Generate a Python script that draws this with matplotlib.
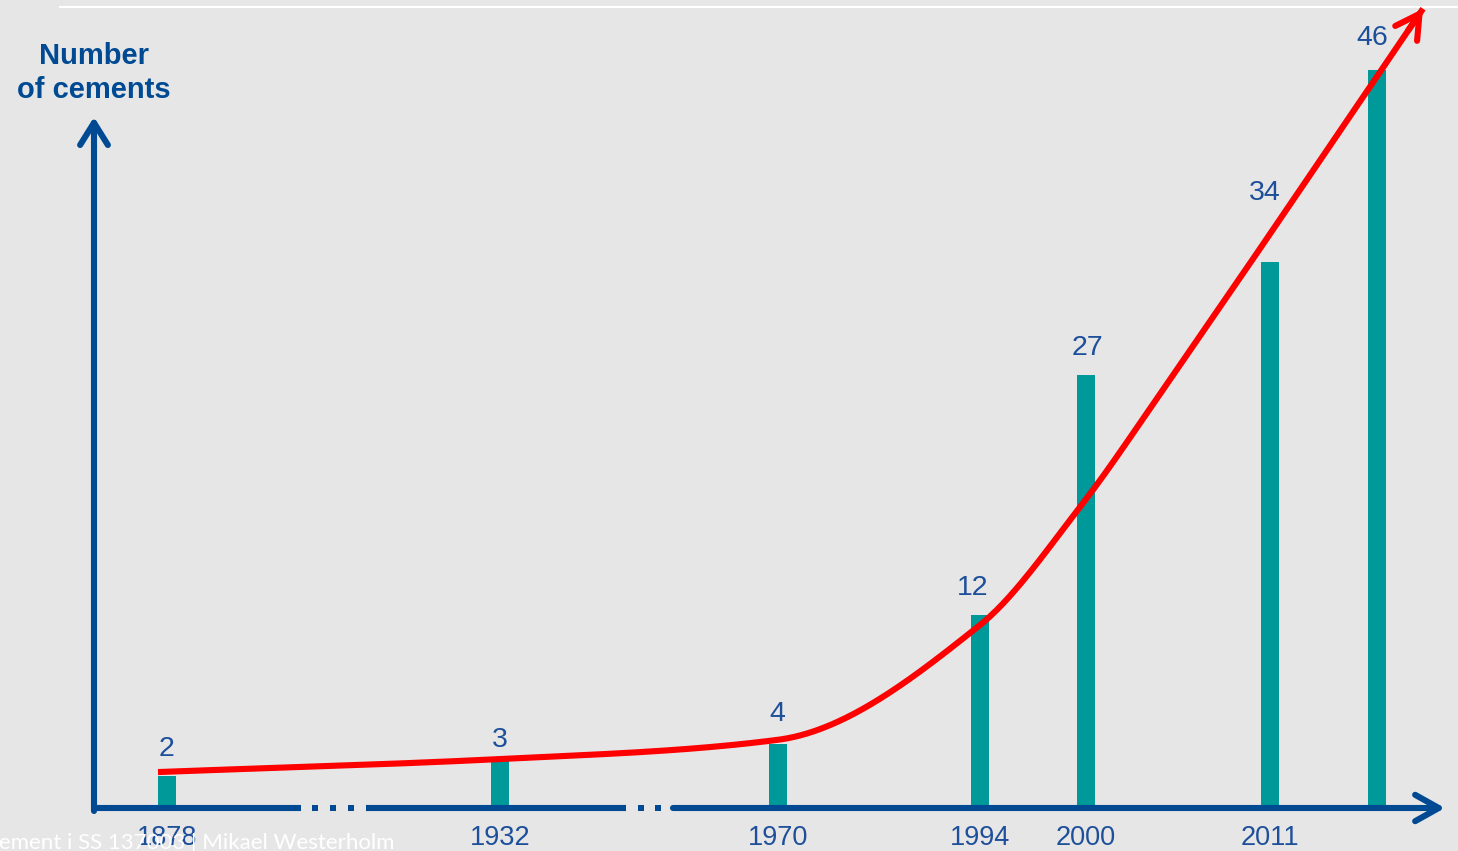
import numpy as np
import matplotlib
matplotlib.use("Agg")
import matplotlib.pyplot as plt
from matplotlib.patches import FancyArrowPatch

# number of cements per standard edition
years = ["1878", "1932", "1970", "1994", "2000", "2011", ""]
counts = [2, 3, 4, 12, 27, 34, 46]

# growth trend drawn over the bars (number of cements)
trend_y = [2.24, 3.05, 4.25, 11.4, 18.75, 26.7, 49.8]

# horizontal layout (pixel units along the broken time axis)
bar_x = [167, 500, 778, 980, 1086, 1270, 1377]
trend_x = [158, 500, 778, 980, 1080, 1170, 1423]
label_dx = [0, 0, -1, -7, 1, -5, -5]
label_dy = [27, 20, 30, 27, 27, 69, 32]

W, H = 1458, 851
BASE = 808          # pixel row of the x axis
PX = 16.05          # pixels per cement

BG = "#e6e6e6"
TEAL = "#009999"
AXIS = "#004a93"
TXT = "#1d4f9a"
RED = "#ff0000"


def py(p):
    # pixel row -> value units
    return (BASE - p) / PX


def pchip(x, y, xs):
    x = np.asarray(x, float)
    y = np.asarray(y, float)
    h = np.diff(x)
    d = np.diff(y) / h
    m = np.zeros_like(y)
    for k in range(1, len(x) - 1):
        if d[k - 1] * d[k] > 0:
            w1 = 2 * h[k] + h[k - 1]
            w2 = h[k] + 2 * h[k - 1]
            m[k] = (w1 + w2) / (w1 / d[k - 1] + w2 / d[k])
    m[0] = d[0]
    m[-1] = d[-1]
    i = np.clip(np.searchsorted(x, xs) - 1, 0, len(h) - 1)
    t = (xs - x[i]) / h[i]
    h00 = 2 * t**3 - 3 * t**2 + 1
    h10 = t**3 - 2 * t**2 + t
    h01 = -2 * t**3 + 3 * t**2
    h11 = t**3 - t**2
    return h00 * y[i] + h10 * h[i] * m[i] + h01 * y[i + 1] + h11 * h[i] * m[i + 1]


plt.rcParams["font.family"] = ["Liberation Sans", "DejaVu Sans"]

fig = plt.figure(figsize=(W / 100, H / 100), dpi=100, facecolor=BG)
ax = fig.add_axes([0, 0, 1, 1])
ax.set_facecolor(BG)
ax.set_xlim(0, W)
ax.set_ylim(py(H), py(0))
ax.axis("off")

# thin white rule at the top
ax.plot([60, W], [py(7), py(7)], color="white", lw=1.5, zorder=1)

# bars
ax.bar(bar_x, counts, width=18, color=TEAL, zorder=2)

# broken x axis
lw = 4.4
for a, b in [(91, 301), (366, 626)]:
    ax.plot([a, b], [0, 0], color=AXIS, lw=lw, solid_capstyle="butt", zorder=4)
ax.plot([315, 333, 351, 641, 658], [0] * 5, ls="none", marker="s",
        ms=4.6, color=AXIS, mew=0, zorder=4)
ax.add_patch(FancyArrowPatch((673, 0), (1445, 0), arrowstyle="->,head_length=1.7,head_width=0.95",
                             mutation_scale=10, color=AXIS, lw=lw, shrinkA=0, shrinkB=0,
                             capstyle="round", joinstyle="round", zorder=4))
# y axis
ax.add_patch(FancyArrowPatch((94, py(811)), (94, py(117)), arrowstyle="->,head_length=1.6,head_width=1.0",
                             mutation_scale=10, color=AXIS, lw=lw, shrinkA=0, shrinkB=0,
                             capstyle="round", joinstyle="round", zorder=3))

# trend curve with arrow head
xs = np.linspace(trend_x[0], trend_x[-1], 600)
ys = pchip(trend_x, trend_y, xs)
ax.plot(xs, ys, color=RED, lw=4.4, solid_capstyle="butt", zorder=5)
ax.add_patch(FancyArrowPatch((xs[-8], ys[-8]), (xs[-1], ys[-1]),
                             arrowstyle="->,head_length=1.7,head_width=0.95",
                             mutation_scale=10, color=RED, lw=4.4, shrinkA=0, shrinkB=0,
                             capstyle="round", joinstyle="round", zorder=5))

# value labels
for x, c, dx, dy in zip(bar_x, counts, label_dx, label_dy):
    ax.text(x + dx, c + dy / PX, str(c), ha="center", va="center",
            fontsize=20.5, color=TXT, zorder=6)

# year labels
for x, yr in zip(bar_x, years):
    ax.text(x, py(838), yr, ha="center", va="center", fontsize=19.5, color=TXT, zorder=6)

# axis title
ax.text(94, py(73), "Number\nof cements", ha="center", va="center", fontsize=21,
        fontweight="bold", color=AXIS, linespacing=1.3, zorder=6)

# footer
ax.text(395, py(849), "Cement i SS 137003 | Mikael Westerholm", ha="right", va="baseline",
        fontsize=16, color="white", family=["Lato", "DejaVu Sans"], zorder=7)

fig.savefig("out.png", dpi=100, facecolor=BG)
